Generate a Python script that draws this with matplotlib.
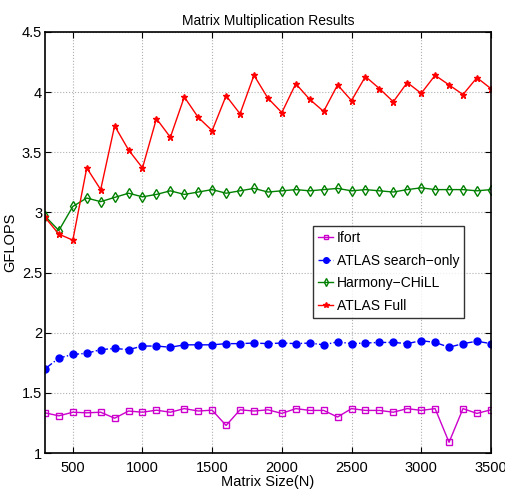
import numpy as np
import matplotlib
matplotlib.use("Agg")
import matplotlib.pyplot as plt

# matrix sizes 300..3500
sizes = list(range(300, 3600, 100))

ifort = [1.335, 1.31, 1.34, 1.335, 1.34, 1.29, 1.35, 1.34, 1.357, 1.34, 1.37,
         1.35, 1.357, 1.23, 1.36, 1.35, 1.36, 1.33, 1.37, 1.355, 1.355, 1.30,
         1.37, 1.355, 1.355, 1.34, 1.37, 1.355, 1.37, 1.09, 1.37, 1.33, 1.36]

atlas_search = [1.70, 1.79, 1.82, 1.83, 1.86, 1.87, 1.86, 1.89, 1.89, 1.88, 1.90,
                1.90, 1.90, 1.91, 1.91, 1.915, 1.91, 1.915, 1.91, 1.915, 1.90,
                1.925, 1.91, 1.915, 1.92, 1.92, 1.91, 1.935, 1.92, 1.88, 1.91,
                1.93, 1.91]

chill = [2.97, 2.85, 3.05, 3.12, 3.09, 3.125, 3.16, 3.13, 3.15, 3.18, 3.15,
         3.17, 3.19, 3.16, 3.18, 3.20, 3.17, 3.18, 3.19, 3.18, 3.19, 3.20,
         3.18, 3.19, 3.18, 3.17, 3.19, 3.205, 3.19, 3.19, 3.19, 3.18, 3.19]

atlas_full = [2.96, 2.82, 2.77, 3.37, 3.19, 3.72, 3.52, 3.37, 3.78, 3.625, 3.96,
              3.79, 3.68, 3.97, 3.82, 4.14, 3.95, 3.83, 4.07, 3.94, 3.84, 4.06,
              3.93, 4.13, 4.03, 3.92, 4.08, 3.99, 4.14, 4.06, 3.98, 4.12, 4.03]

plt.rcParams["font.family"] = ["Liberation Sans", "DejaVu Sans"]

fig = plt.figure(figsize=(5.05, 4.92), dpi=100)
ax = fig.add_axes([0.089, 0.079, 0.883, 0.856])

ax.plot(sizes, ifort, color="#cc00cc", marker="s", markersize=4,
        fillstyle="none", linewidth=1, label="Ifort")
ax.plot(sizes, atlas_search, color="#0000ff", marker="o", markersize=5,
        linestyle="-.", linewidth=1, label="ATLAS search\u2212only")
ax.plot(sizes, chill, color="#008000", marker="d", markersize=5,
        fillstyle="none", linewidth=1, label="Harmony\u2212CHiLL")
ax.plot(sizes, atlas_full, color="#ff0000", marker="*", markersize=5,
        linewidth=1, label="ATLAS Full")

ax.set_xlim(300, 3500)
ax.set_ylim(1, 4.5)
ax.set_xticks([500, 1000, 1500, 2000, 2500, 3000, 3500])
ax.set_yticks([1, 1.5, 2, 2.5, 3, 3.5, 4, 4.5])
ax.set_yticklabels(["1", "1.5", "2", "2.5", "3", "3.5", "4", "4.5"])
ax.tick_params(direction="in", top=True, right=True, labelsize=10.5,
               length=4)
ax.tick_params(axis="x", pad=6)
ax.tick_params(axis="y", pad=2)
ax.grid(True, linestyle=":", color="#b0b0b0", linewidth=0.8)
for s in ax.spines.values():
    s.set_linewidth(1.2)

ax.set_title("Matrix Multiplication Results", fontsize=10, pad=5)
ax.set_xlabel("Matrix Size(N)", fontsize=10.5, labelpad=0)
ax.set_ylabel("GFLOPS", fontsize=10.5)
ax.yaxis.set_label_coords(-0.062, 0.5)

leg = ax.legend(loc="upper right", bbox_to_anchor=(0.94, 0.539),
                fontsize=10, frameon=True, fancybox=False, handlelength=1.1,
                handletextpad=0.25, borderpad=0.35, labelspacing=0.62,
                borderaxespad=0, markerscale=0.8)
leg.get_frame().set_edgecolor("black")
leg.get_frame().set_linewidth(1)

fig.savefig("out.png", dpi=100)
